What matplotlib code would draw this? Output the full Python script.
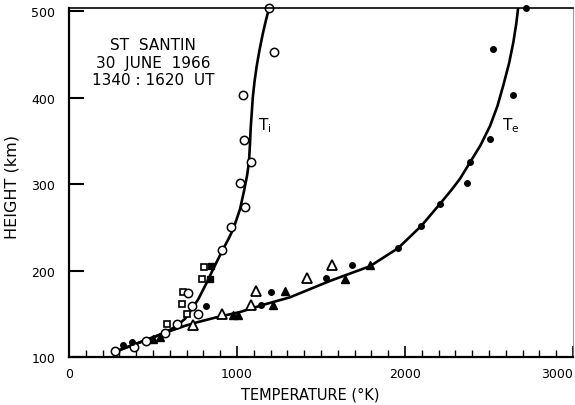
import matplotlib.pyplot as plt
from matplotlib.ticker import MultipleLocator

# smoothed profiles (temperature K, height km)
ti_curve_t = [274, 423, 571, 641, 690, 730, 770, 820, 859, 918, 948, 978,
              1018, 1044, 1060, 1071, 1077, 1081, 1087, 1094, 1104, 1117,
              1134, 1155, 1173, 1192]
ti_curve_h = [106, 117, 128, 136, 144, 155, 167, 186, 202, 225, 236, 248,
              271, 294, 310, 325, 345, 363, 380, 400, 418, 436,
              455, 475, 490, 504]

te_curve_t = [274, 423, 571, 690, 760, 880, 1018, 1150, 1315, 1554, 1792,
              1960, 2099, 2208, 2280, 2327, 2387, 2450, 2506, 2550, 2585,
              2620, 2645, 2662, 2675]
te_curve_h = [106, 117, 128, 136, 140, 146, 152, 160, 169, 188, 205,
              226, 252, 277, 294, 306, 325, 345, 367, 390, 414,
              440, 464, 485, 506]

# measurements
ti_open_t = [274, 389, 457, 573, 645, 766, 734, 710, 913, 962, 1048, 1018,
             1083, 1044, 1038, 1220, 1192]
ti_open_h = [107, 112, 118, 128, 138, 150, 159, 174, 224, 250, 274, 301,
             326, 351, 403, 453, 504]

sq_open_t = [581, 700, 670, 680, 790, 805]
sq_open_h = [138, 150, 161, 175, 190, 204]
sq_fill_t = [840, 845]
sq_fill_h = [190, 205]

te_fill_t = [323, 373, 813, 1141, 1202, 1530, 1682, 1960, 2095, 2208, 2371,
             2387, 2506, 2645, 2522, 2720]
te_fill_h = [114, 117, 159, 160, 175, 191, 206, 226, 252, 277, 301,
             326, 352, 403, 456, 504]

tri_fill_t = [502, 542, 978, 1008, 1216, 1286, 1643, 1792]
tri_fill_h = [121, 123, 149, 149, 160, 176, 190, 206]
tri_open_t = [740, 913, 1083, 1111, 1419, 1563]
tri_open_h = [137, 150, 160, 176, 191, 206]

x_ticks = [0, 1000, 2000, 3000]
x_ticklabels = ['0', '1000', '2000', '']
y_ticks = [100, 200, 300, 400, 500]

fig = plt.figure(figsize=(5.75, 4.06), dpi=100)
ax = fig.add_axes([69 / 575, 1 - 358 / 406, 504 / 575, 349 / 406])

ax.plot(ti_curve_t, ti_curve_h, color='black', lw=1.9, solid_capstyle='round',
        solid_joinstyle='round')
ax.plot(te_curve_t, te_curve_h, color='black', lw=1.9, solid_capstyle='round',
        solid_joinstyle='round')

ax.plot(tri_fill_t, tri_fill_h, '^', color='black', ms=5.5, clip_on=False)
ax.plot(tri_open_t, tri_open_h, '^', mfc='white', mec='black', mew=1.3, ms=7.5, clip_on=False)
ax.plot(sq_open_t, sq_open_h, 's', mfc='white', mec='black', mew=1.2, ms=4.5, clip_on=False)
ax.plot(sq_fill_t, sq_fill_h, 's', color='black', ms=4.5, clip_on=False)
ax.plot(ti_open_t, ti_open_h, 'o', mfc='white', mec='black', mew=1.1, ms=6, clip_on=False)
ax.plot(te_fill_t, te_fill_h, 'o', color='black', ms=4, clip_on=False)

ax.set_xticks(x_ticks)
ax.set_xticklabels(x_ticklabels)
ax.xaxis.set_minor_locator(MultipleLocator(100))
ax.set_yticks(y_ticks)
ax.tick_params(axis='x', which='major', direction='in', length=8, width=1.2,
               labelsize=9, pad=7, top=False)
ax.tick_params(axis='x', which='minor', direction='in', length=5, width=1.0, top=False)
ax.tick_params(axis='y', which='major', direction='in', length=11, width=1.5,
               labelsize=9, pad=10, right=False)

ax.set_xlim(0, 3000)
ax.set_ylim(100, 503.5)

# the 3000 label is pulled inside the frame edge
ax.annotate('3000', xy=(1, 0), xycoords='axes fraction',
            xytext=(0, -7), textcoords='offset points', ha='right', va='top', fontsize=9)

ax.spines['left'].set_linewidth(1.6)
ax.spines['bottom'].set_linewidth(1.6)
ax.spines['top'].set_linewidth(1.2)
ax.spines['right'].set_linewidth(0.6)
ax.spines['right'].set_color('#888888')

ax.set_xlabel('TEMPERATURE (°K)', fontsize=10.5)
ax.xaxis.set_label_coords(0.478, -0.085)
ax.set_ylabel('HEIGHT (km)', fontsize=11.5)
ax.yaxis.set_label_coords(-0.098, 0.49)

ax.text(500, 441, 'ST  SANTIN\n30  JUNE  1966\n1340 : 1620  UT', ha='center', va='center',
        fontsize=11, linespacing=1.2)
ax.text(1125, 369, r'T$_\mathregular{i}$', fontsize=11, ha='left', va='center')
ax.text(2577, 369, r'T$_\mathregular{e}$', fontsize=11, ha='left', va='center')

fig.savefig('out.png', dpi=100)
